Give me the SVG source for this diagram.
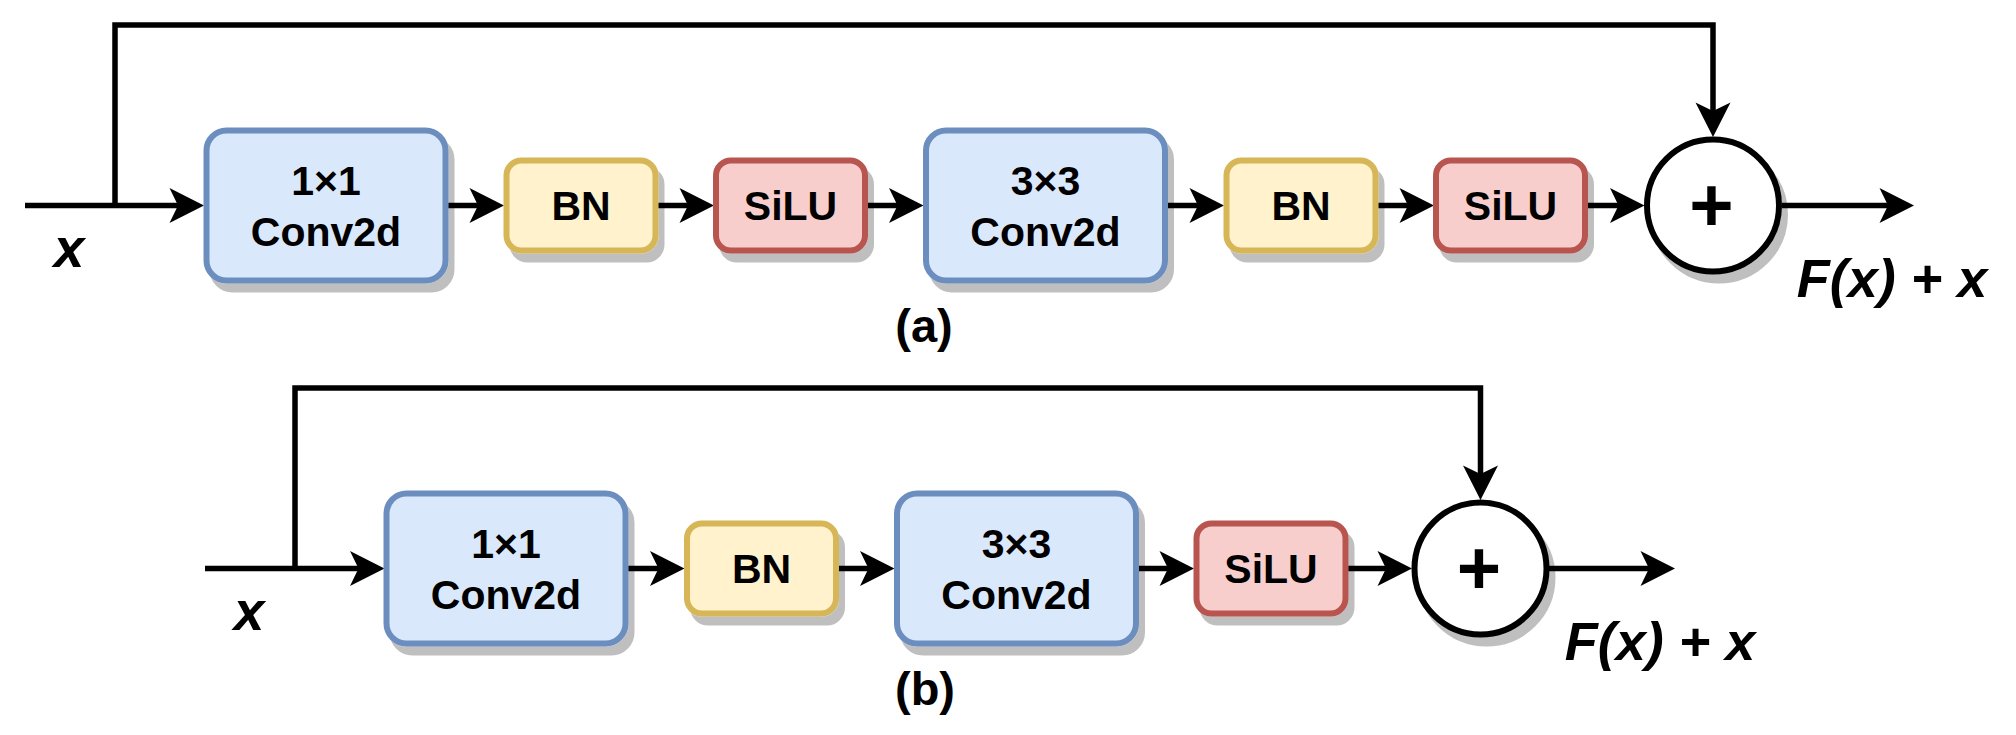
<svg xmlns="http://www.w3.org/2000/svg" width="2016" height="735" viewBox="0 0 2016 735">
<style>
  text { font-family: "Liberation Sans", Arial, sans-serif; font-weight: bold; fill: #000; }
  .lbl { font-size: 41px; text-anchor: middle; }
  .cap { font-size: 47px; text-anchor: middle; }
  .var { font-size: 55px; font-style: italic; text-anchor: middle; }
  .res { font-size: 54px; font-style: italic; text-anchor: middle; }
  .plus { font-size: 76px; text-anchor: middle; }
  .conv { fill: #dae8fc; stroke: #6c8ebf; stroke-width: 6; }
  .bn { fill: #fff2cc; stroke: #d6b656; stroke-width: 6; }
  .act { fill: #f8cecc; stroke: #b85450; stroke-width: 6; }
  .sum { fill: #fff; stroke: #000; stroke-width: 6; }
  .edge { fill: none; stroke: #000; stroke-width: 5.5; marker-end: url(#arr); }
  .plain { fill: none; stroke: #000; stroke-width: 5.5; }
</style>
<defs>
  <filter id="sh" x="-10%" y="-10%" width="130%" height="130%">
    <feOffset in="SourceAlpha" dx="6" dy="9" result="o"/>
    <feFlood flood-color="#000" flood-opacity="0.25"/>
    <feComposite in2="o" operator="in" result="s"/>
    <feMerge><feMergeNode in="s"/><feMergeNode in="SourceGraphic"/></feMerge>
  </filter>
  <marker id="arr" markerUnits="userSpaceOnUse" viewBox="-36 -19 38 38" markerWidth="38" markerHeight="38" refX="-24" refY="0" orient="auto">
    <path d="M0,0 L-34.5,-17.5 L-26,0 L-34.5,17.5 Z" fill="#000"/>
  </marker>
</defs>

<g id="connectors">
  <!-- (a) -->
  <path class="plain" d="M25,205.5 H115"/>
  <path class="edge" d="M115,205.5 H180"/>
  <path class="edge" d="M115,205.5 V25 H1713 V113"/>
  <path class="edge" d="M448,205.5 H480"/>
  <path class="edge" d="M658,205.5 H690"/>
  <path class="edge" d="M867.5,205.5 H899.5"/>
  <path class="edge" d="M1167.5,205.5 H1200"/>
  <path class="edge" d="M1377.5,205.5 H1410"/>
  <path class="edge" d="M1587.5,205.5 H1620.5"/>
  <path class="edge" d="M1782,205.5 H1890"/>
  <!-- (b) -->
  <path class="plain" d="M205,568.5 H295"/>
  <path class="edge" d="M295,568.5 H360.5"/>
  <path class="edge" d="M295,568.5 V388 H1480.5 V476"/>
  <path class="edge" d="M628,568.5 H660.5"/>
  <path class="edge" d="M838,568.5 H870.5"/>
  <path class="edge" d="M1138.5,568.5 H1170"/>
  <path class="edge" d="M1348,568.5 H1388"/>
  <path class="edge" d="M1549,568.5 H1651"/>
</g>

<!-- (a) nodes -->
<g id="a-conv1x1">
  <rect class="conv" x="206.5" y="130.5" width="239" height="150" rx="20" filter="url(#sh)"/>
  <text class="lbl" x="326" y="195">1×1</text>
  <text class="lbl" x="326" y="245.5">Conv2d</text>
</g>
<g id="a-bn1">
  <rect class="bn" x="506.5" y="160.5" width="149" height="90" rx="15" filter="url(#sh)"/>
  <text class="lbl" x="581" y="220">BN</text>
</g>
<g id="a-silu1">
  <rect class="act" x="716" y="160.5" width="149" height="90" rx="15" filter="url(#sh)"/>
  <text class="lbl" x="790.5" y="220">SiLU</text>
</g>
<g id="a-conv3x3">
  <rect class="conv" x="926" y="130.5" width="239" height="150" rx="20" filter="url(#sh)"/>
  <text class="lbl" x="1045.5" y="195">3×3</text>
  <text class="lbl" x="1045.5" y="245.5">Conv2d</text>
</g>
<g id="a-bn2">
  <rect class="bn" x="1226.5" y="160.5" width="149" height="90" rx="15" filter="url(#sh)"/>
  <text class="lbl" x="1301" y="220">BN</text>
</g>
<g id="a-silu2">
  <rect class="act" x="1436" y="160.5" width="149" height="90" rx="15" filter="url(#sh)"/>
  <text class="lbl" x="1510.5" y="220">SiLU</text>
</g>
<g id="a-sum">
  <circle class="sum" cx="1713" cy="205.5" r="66" filter="url(#sh)"/>
  <text class="plus" x="1711.5" y="231">+</text>
</g>
<g id="a-labels">
  <text class="var" x="69" y="267">x</text>
  <text class="res" x="1892" y="297">F(x) + x</text>
  <text class="cap" x="924" y="342">(a)</text>
</g>

<!-- (b) nodes -->
<g id="b-conv1x1">
  <rect class="conv" x="386.5" y="493.5" width="239" height="150" rx="20" filter="url(#sh)"/>
  <text class="lbl" x="506" y="558">1×1</text>
  <text class="lbl" x="506" y="608.5">Conv2d</text>
</g>
<g id="b-bn">
  <rect class="bn" x="687" y="523.5" width="149" height="90" rx="15" filter="url(#sh)"/>
  <text class="lbl" x="761.5" y="583">BN</text>
</g>
<g id="b-conv3x3">
  <rect class="conv" x="897" y="493.5" width="239" height="150" rx="20" filter="url(#sh)"/>
  <text class="lbl" x="1016.5" y="558">3×3</text>
  <text class="lbl" x="1016.5" y="608.5">Conv2d</text>
</g>
<g id="b-silu">
  <rect class="act" x="1196.5" y="523.5" width="149" height="90" rx="15" filter="url(#sh)"/>
  <text class="lbl" x="1271" y="583">SiLU</text>
</g>
<g id="b-sum">
  <circle class="sum" cx="1480.5" cy="568.5" r="66" filter="url(#sh)"/>
  <text class="plus" x="1479" y="594">+</text>
</g>
<g id="b-labels">
  <text class="var" x="249" y="630">x</text>
  <text class="res" x="1660" y="660">F(x) + x</text>
  <text class="cap" x="925" y="705">(b)</text>
</g>
</svg>
